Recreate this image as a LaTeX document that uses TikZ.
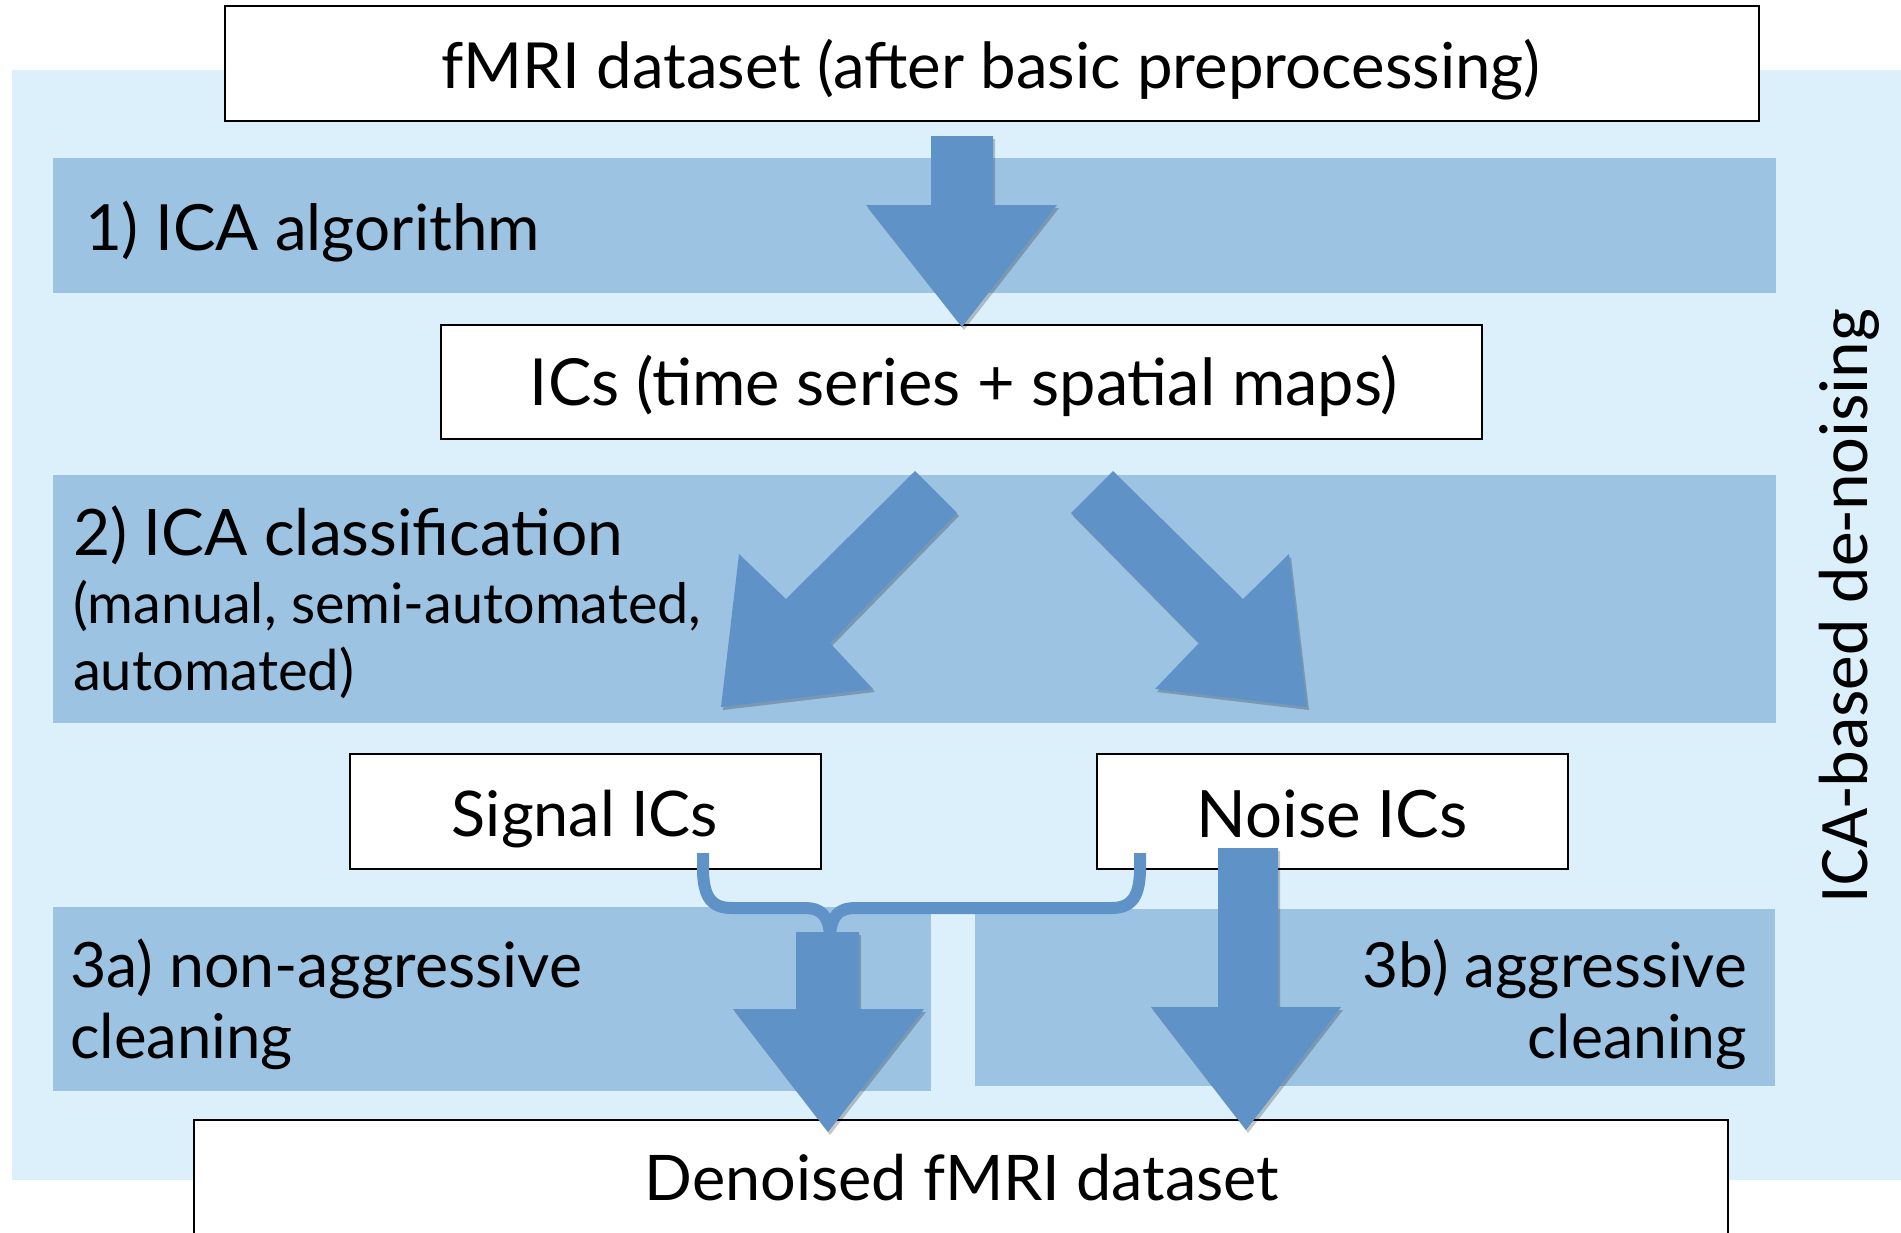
\documentclass[tikz,border=0pt]{standalone}
\usepackage{fontspec}
\setmainfont{Lato}
\newfontfamily\sidefont{Carlito}
\usepackage{graphicx}
\definecolor{bglight}{RGB}{220,240,251}
\definecolor{bandblue}{RGB}{157,195,227}
\definecolor{arrowblue}{RGB}{95,147,199}
\newcommand\fitw[2]{\resizebox{#1pt}{!}{#2}}
\tikzset{
  box/.style={draw=black, line width=1.8pt, fill=white, inner sep=0pt},
  lbl/.style={inner sep=0pt, outer sep=0pt, text=black},
  blockarrow/.style={fill=arrowblue},
  arrowshadow/.style={fill=black, opacity=0.22},
  bandfill/.style={fill=bandblue},
  bracestroke/.style={draw=arrowblue, line width=12pt, line cap=butt, line join=round}
}
\begin{document}
\begin{tikzpicture}[x=1pt,y=-1pt]
\clip (0,0) rectangle (1901,1232);
\fill[white] (0,0) rectangle (1901,1232);
% background panel
\fill[bglight] (12,70) rectangle (1901,1180);
% bands
\fill[bandfill] (53,158) rectangle (1776,293);
\fill[bandfill] (53,475) rectangle (1776,723);
\fill[bandfill] (53,907) rectangle (931,1091);
\fill[bandfill] (975,909) rectangle (1775,1086);

% boxes
\node[box, minimum width=1534pt, minimum height=115pt] (top) at (992,63.5) {};
\node[box, minimum width=1041pt, minimum height=114pt] (ics) at (961.5,382) {};
\node[box, minimum width=471pt, minimum height=115pt] (signal) at (585.5,811.5) {};
\node[box, minimum width=471pt, minimum height=115pt] (noise) at (1332.5,811.5) {};
\node[box, minimum width=1534pt, minimum height=140pt] (denoised) at (961,1190) {};

% named points for connectors
\coordinate (bl) at (703,853);
\coordinate (br) at (1140,853);
\coordinate (bm) at (830,934);

% arrow shadows
\begin{scope}[shift={(2,3)}]
\fill[arrowshadow] (931,136) -- (993,136) -- (993,205) -- (1057,205) -- (962,327) -- (866,205) -- (931,205) -- cycle;
\fill[arrowshadow] (915,471) -- (957,513) -- (830,643) -- (873,689) -- (721,707) -- (739,554) -- (786,599) -- cycle;
\fill[arrowshadow] (1113,471) -- (1071,513) -- (1199,643) -- (1155,689) -- (1307,707) -- (1289,554) -- (1243,599) -- cycle;
\fill[arrowshadow] (796,932) -- (859,932) -- (859,1009) -- (924,1009) -- (828,1132) -- (733,1009) -- (796,1009) -- cycle;
\fill[arrowshadow] (1218,848) -- (1278,848) -- (1278,1007) -- (1341,1007) -- (1246,1130) -- (1151,1007) -- (1218,1007) -- cycle;
\end{scope}
% block arrows
\fill[blockarrow] (931,136) -- (993,136) -- (993,205) -- (1057,205) -- (962,327) -- (866,205) -- (931,205) -- cycle;
\fill[blockarrow] (915,471) -- (957,513) -- (830,643) -- (873,689) -- (721,707) -- (739,554) -- (786,599) -- cycle;
\fill[blockarrow] (1113,471) -- (1071,513) -- (1199,643) -- (1155,689) -- (1307,707) -- (1289,554) -- (1243,599) -- cycle;
\fill[blockarrow] (796,932) -- (859,932) -- (859,1009) -- (924,1009) -- (828,1132) -- (733,1009) -- (796,1009) -- cycle;
\fill[blockarrow] (1218,848) -- (1278,848) -- (1278,1007) -- (1341,1007) -- (1246,1130) -- (1151,1007) -- (1218,1007) -- cycle;

% brace joining signal and noise ICs
\draw[bracestroke] (bl) -- (703,872) .. controls (704,898) and (712,908) .. (732,908) -- (804,908) .. controls (822,908) and (828,916) .. (bm);
\draw[bracestroke] (bm) .. controls (832,916) and (838,908) .. (856,908) -- (1111,908) .. controls (1131,908) and (1139,898) .. (1140,872) -- (br);

% texts
\node[lbl, anchor=base] (t0) at (991,88) {\fitw{1098}{fMRI dataset (after basic preprocessing)}};
\node[lbl, anchor=base west] (s1) at (85,250) {\fitw{455}{1) ICA algorithm}};
\node[lbl, anchor=base] (t1) at (964,405) {\fitw{868}{ICs (time series + spatial maps)}};
\node[lbl, anchor=base west] (s2a) at (73,555) {\fitw{550}{2) ICA classification}};
\node[lbl, anchor=base west] (s2b) at (73,623) {\fitw{628}{(manual, semi-automated,}};
\node[lbl, anchor=base west] (s2c) at (73,690) {\fitw{281}{automated)}};
\node[lbl, anchor=base] (sigtxt) at (585,836) {\fitw{266}{Signal ICs}};
\node[lbl, anchor=base] (noitxt) at (1332,837) {\fitw{271}{Noise ICs}};
\node[lbl, anchor=base west] (s3a1) at (70,987) {\fitw{512}{3a) non-aggressive}};
\node[lbl, anchor=base west] (s3a2) at (70,1058) {\fitw{223}{cleaning}};
\node[lbl, anchor=base east] (s3b1) at (1747,987) {\fitw{384}{3b) aggressive}};
\node[lbl, anchor=base east] (s3b2) at (1747,1058) {\fitw{219}{cleaning}};
\node[lbl, anchor=base] (dentxt) at (962,1200) {\fitw{634}{Denoised fMRI dataset}};
\node[lbl, anchor=base, rotate=90] (side) at (1867,606) {\resizebox{594pt}{!}{\sidefont ICA-based de-noising}};
\end{tikzpicture}
\end{document}
